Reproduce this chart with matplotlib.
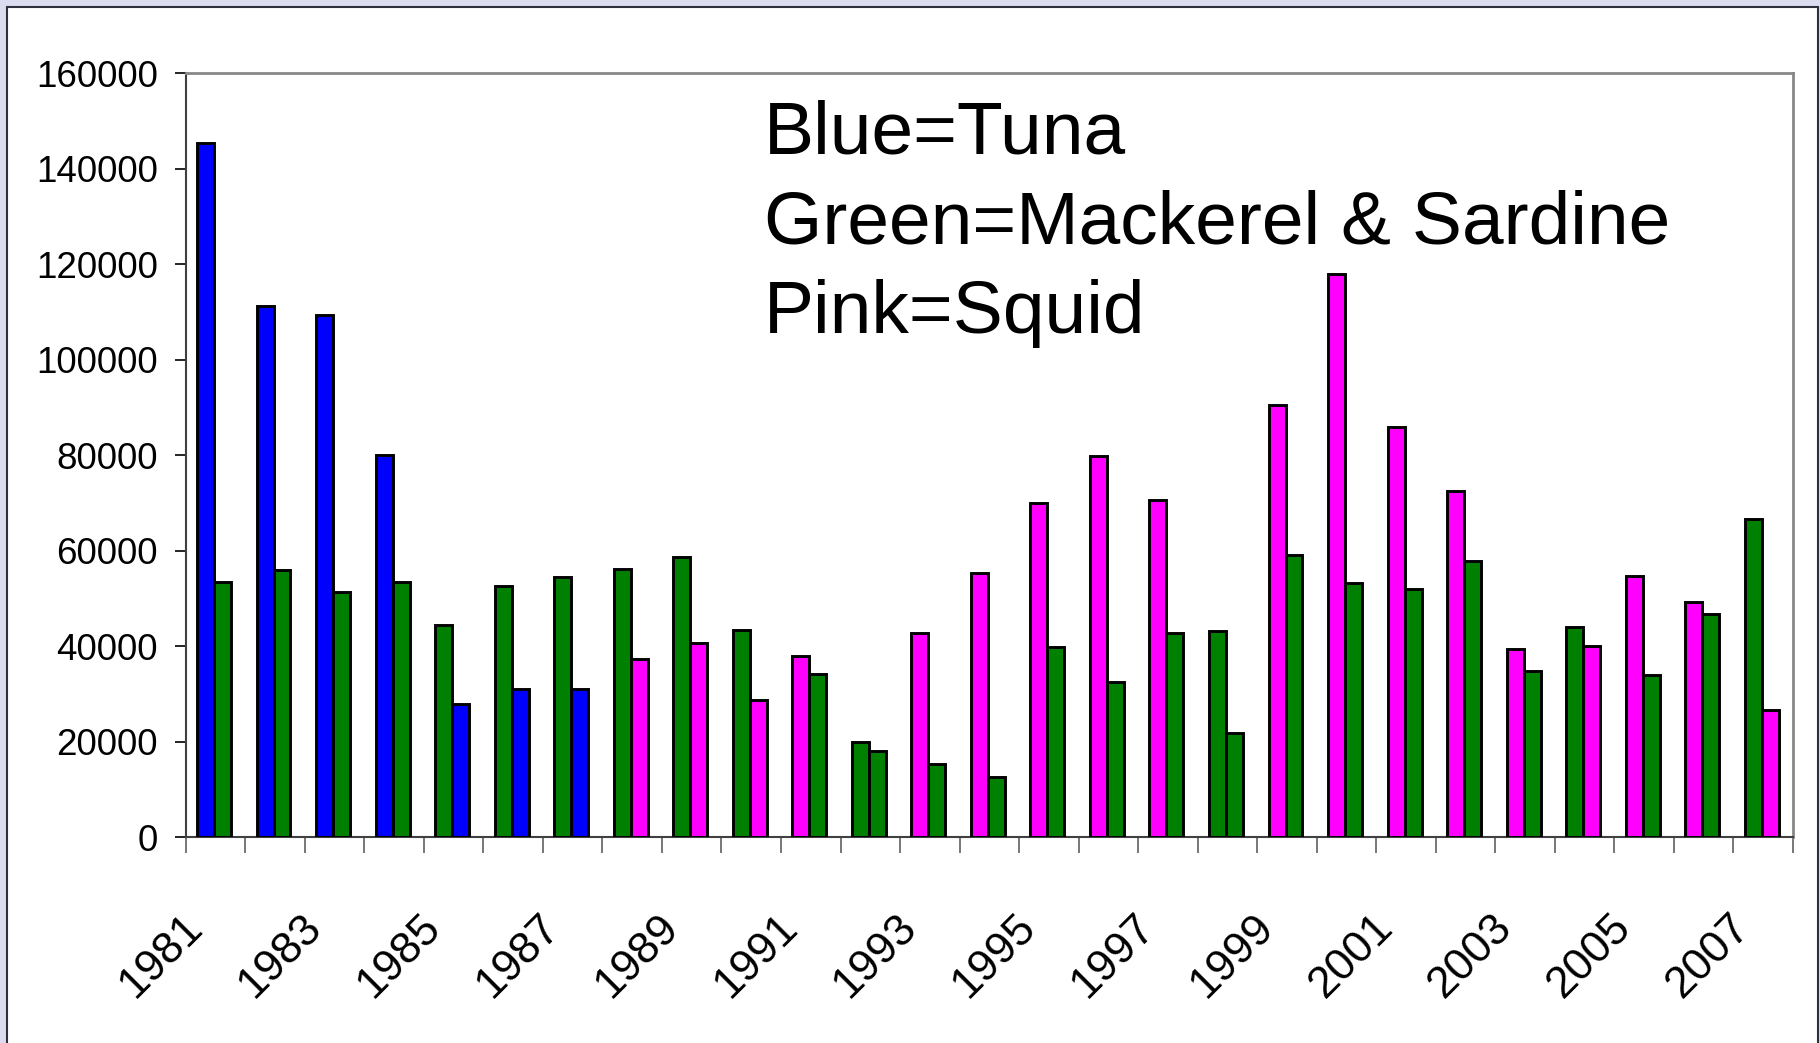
"""
Leading catch per year: two largest species groups, 1981-2007
"""
import matplotlib
matplotlib.use("Agg")
import matplotlib.pyplot as plt
import matplotlib.transforms as mtransforms
from matplotlib.patches import Rectangle
import numpy as np


# Data
years = list(range(1981, 2008))
first_catch = [145300, 111300, 109300, 80000, 44500, 52700, 54600, 56100, 58600, 43400,
               38000, 20000, 42700, 55300, 70000, 79900, 70600, 43300, 90600, 118000,
               85900, 72600, 39400, 44000, 54700, 49300, 66700]
first_species = ["T", "T", "T", "T", "M", "M", "M", "M", "M", "M",
                 "S", "M", "S", "S", "S", "S", "S", "M", "S", "S",
                 "S", "S", "S", "M", "S", "S", "M"]
second_catch = [53400, 56000, 51400, 53400, 28000, 31100, 31100, 37300, 40700, 28800,
                34100, 18000, 15400, 12700, 39900, 32500, 42700, 21900, 59200, 53200,
                51900, 57900, 34800, 40000, 34000, 46700, 26700]
second_species = ["M", "M", "M", "M", "T", "T", "T", "S", "S", "S",
                  "M", "M", "M", "M", "M", "M", "M", "M", "M", "M",
                  "M", "M", "M", "S", "M", "M", "S"]
legend_lines = ["Blue=Tuna", "Green=Mackerel & Sardine", "Pink=Squid"]

# Settings
species_colors = {"T": "#0000ff", "M": "#008000", "S": "#ff00ff"}
plt.rcParams["font.family"] = ["Liberation Sans", "DejaVu Sans"]
W, H, DPI = 1820, 1043, 100


def main():
    fig = plt.figure(figsize=(W / DPI, H / DPI), dpi=DPI, facecolor="#dcdcf0")
    # white slide panel (behind the axes)
    fig.patches.append(Rectangle((7 / W, -0.02), (1818 - 7) / W, 1.02 - 7 / H,
                                 transform=fig.transFigure, facecolor="white",
                                 edgecolor="#30303c", linewidth=1.5, zorder=-5))

    ax = fig.add_axes([185.7 / W, 1 - 837.3 / H, (1793 - 185.7) / W, (837.3 - 73.3) / H])
    ax.set_facecolor("white")

    x = np.arange(len(years))
    bw = 0.285
    shift = -0.025
    ax.bar(x - bw / 2 + shift, first_catch, width=bw,
           color=[species_colors[s] for s in first_species],
           edgecolor="black", linewidth=2.1, zorder=3)
    ax.bar(x + bw / 2 + shift, second_catch, width=bw,
           color=[species_colors[s] for s in second_species],
           edgecolor="black", linewidth=2.1, zorder=3)

    ax.set_xlim(-0.5, len(years) - 0.5)
    ax.set_ylim(0, 160000)

    # y axis
    ax.set_yticks(np.arange(0, 160001, 20000))
    ax.set_yticklabels([f"{v:d}" for v in range(0, 160001, 20000)])
    ax.tick_params(axis="y", direction="out", length=8, width=1.2, color="black",
                   labelsize=26.5, pad=12)

    # x axis: tick marks between categories, labels every other year
    ax.set_xticks(np.arange(-0.5, len(years), 1.0))
    ax.set_xticklabels([])
    ax.tick_params(axis="x", which="major", direction="out", length=11.5, width=1.2,
                   color="#606060")
    ax.set_xticks(x[::2], minor=True)
    ax.set_xticklabels([str(y) for y in years[::2]], minor=True, rotation=45,
                       ha="right", va="top")
    ax.tick_params(axis="x", which="minor", length=0, labelsize=32, pad=50)
    offset = mtransforms.ScaledTranslation(-5 / DPI, 0, fig.dpi_scale_trans)
    for lab in ax.get_xticklabels(minor=True):
        lab.set_transform(lab.get_transform() + offset)

    for side in ["top", "right"]:
        ax.spines[side].set_color("#888888")
        ax.spines[side].set_linewidth(2)
    ax.spines["left"].set_color("#404040")
    ax.spines["left"].set_linewidth(1.5)
    ax.spines["bottom"].set_color("#404040")
    ax.spines["bottom"].set_linewidth(1.5)

    # species key text
    for i, line in enumerate(legend_lines):
        fig.text(764 / W, 1 - (153.3 + 90 * i) / H, line, fontsize=54,
                 ha="left", va="baseline", color="black")

    fig.savefig("out.png", dpi=DPI, facecolor=fig.get_facecolor())


if __name__ == "__main__":
    main()
